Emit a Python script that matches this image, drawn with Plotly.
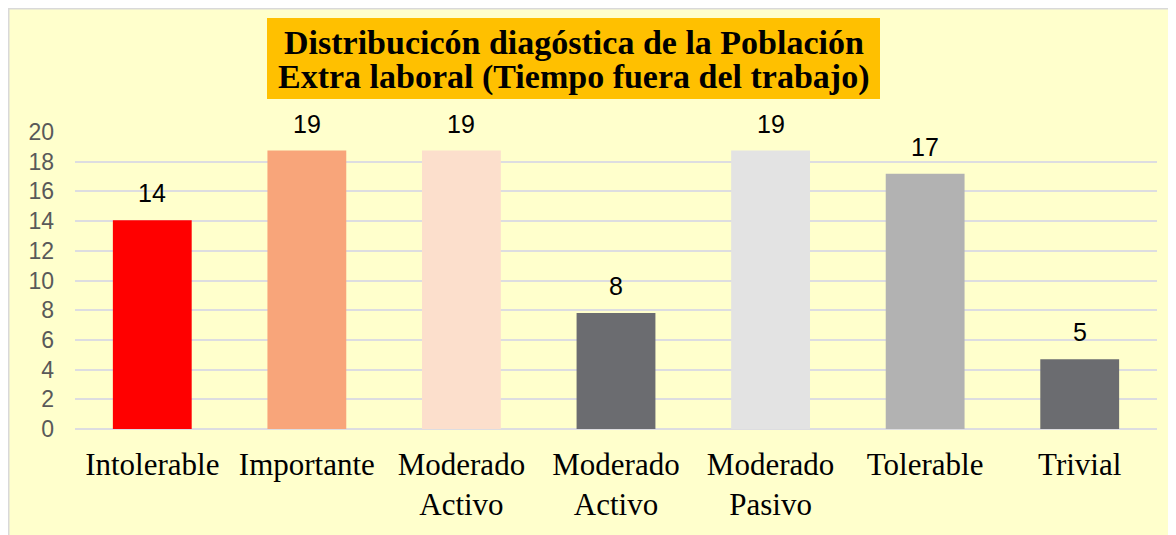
import plotly.graph_objects as go

categories = ["Intolerable", "Importante", "Moderado<br>Activo", "Moderado<br>Activo",
              "Moderado<br>Pasivo", "Tolerable", "Trivial"]
values = [14.06, 18.75, 18.75, 7.81, 18.75, 17.19, 4.69]
bar_colors = ["#FF0000", "#F8A57A", "#FCDFCC", "#6B6C70", "#E3E3E3", "#B2B2B2", "#6B6C70"]
y_ticks = [0, 2, 4, 6, 8, 10, 12, 14, 16, 18, 20]
title_lines = ["Distribucicón diagóstica de la Población",
               "Extra laboral (Tiempo fuera del trabajo)"]

OFF = 8  # page body margin
W, H = 1176 - OFF, 535 - OFF
L, R, T, B = 67, 19, 124, 106
pw, ph = W - L - R, H - T - B

def px_x(p):
    return (p - OFF - L) / pw

def px_y(p):
    return (H - B - (p - OFF)) / ph

xs = list(range(len(categories)))

fig = go.Figure()
fig.add_trace(go.Bar(
    x=xs, y=values,
    marker=dict(color=bar_colors, line=dict(width=0)),
    hoverinfo="skip",
))

for x, v in zip(xs, values):
    fig.add_annotation(x=x, y=v, text=f"{v:.0f}", showarrow=False,
                       yanchor="bottom", yshift=11,
                       font=dict(family="Liberation Sans, Arial", size=25, color="#000000"))

# border
fig.add_shape(type="rect", xref="paper", yref="paper",
              x0=px_x(8.5), x1=px_x(1190), y0=px_y(545), y1=px_y(8.5),
              fillcolor="rgba(0,0,0,0)", line=dict(color="#D9D9D9", width=2), layer="below")
# title box
fig.add_shape(type="rect", xref="paper", yref="paper",
              x0=px_x(267), x1=px_x(880), y0=px_y(99), y1=px_y(18),
              fillcolor="#FFC000", line=dict(width=0), layer="below")
for i, line in enumerate(title_lines):
    fig.add_annotation(xref="paper", yref="paper", x=px_x(573.5), y=px_y([42, 77][i]),
                       text=f"<b>{line}</b>", showarrow=False,
                       xanchor="center", yanchor="middle",
                       font=dict(family="Liberation Serif, Times New Roman", size=34, color="#000000"))

fig.update_layout(
    width=W, height=H,
    margin=dict(l=L, r=R, t=T, b=B, pad=0),
    paper_bgcolor="#FFFFCC",
    plot_bgcolor="rgba(0,0,0,0)",
    bargap=0.49,
    showlegend=False,
    xaxis=dict(
        tickvals=xs, ticktext=categories, range=[-0.5, len(categories) - 0.5],
        showgrid=False, zeroline=False, showline=False, ticks="",
        tickfont=dict(family="Liberation Serif, Times New Roman", size=31, color="#000000"),
        ticklabelstandoff=14,
    ),
    yaxis=dict(
        range=[0, 20], tickvals=y_ticks,
        showgrid=True, gridcolor="#DDDDE0", gridwidth=2,
        zeroline=True, zerolinecolor="#DDDDE0", zerolinewidth=2,
        showline=False, ticks="",
        tickfont=dict(family="Liberation Sans, Arial", size=23, color="#595959"),
        ticklabelstandoff=20,
    ),
)

fig.write_html("out.html")
